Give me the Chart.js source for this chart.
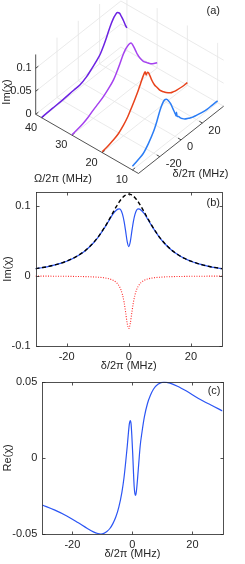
<!DOCTYPE html>
<html>
<head>
<meta charset="utf-8">
<script src="https://cdn.jsdelivr.net/npm/chart.js@4.4.1/dist/chart.umd.min.js"></script>
<style>
  html, body { margin: 0; padding: 0; background: #fff; }
  #wrap { position: relative; width: 245px; height: 564px; overflow: hidden; }
  canvas { position: absolute; left: 0; }
</style>
</head>
<body>
<div id="wrap">
  <canvas id="chartA" width="245" height="185" style="top:0"></canvas>
  <canvas id="chartB" width="245" height="200" style="top:180px"></canvas>
  <canvas id="chartC" width="245" height="194" style="top:370px"></canvas>
</div>
<script>
// ---- panel (a): Im(chi) traces for four coupling strengths Omega/2pi (MHz)
const omegaLevels = [10, 20, 30, 40];
const deltaOmega10 = [-40, -35, -30, -25, -20, -17, -14, -12, -10, -8, -6, -4, -2, -1, 0, 0.5, 1, 1.4, 1.9, 3.3, 5, 6.5, 9, 12.7, 16, 20, 25, 30, 35, 40];
const imOmega10 = [0.008, 0.012, 0.017, 0.030, 0.048, 0.064, 0.083, 0.092, 0.097, 0.095, 0.088, 0.078, 0.064, 0.057, 0.050, 0.047, 0.043, 0.050, 0.040, 0.037, 0.031, 0.027, 0.021, 0.016, 0.012, 0.009, 0.006, 0.004, 0.004, 0.004];
const deltaOmega20 = [-40, -35, -30, -25, -20, -16, -12, -9, -6, -4, -2, -0.5, 0.3, 1.3, 2.5, 3.5, 5, 6.6, 9, 11.4, 14, 17.6, 20, 24, 27, 30, 35, 40];
const imOmega20 = [0.002, 0.004, 0.008, 0.013, 0.023, 0.034, 0.049, 0.061, 0.074, 0.084, 0.094, 0.100, 0.102, 0.093, 0.097, 0.094, 0.084, 0.072, 0.058, 0.048, 0.037, 0.027, 0.021, 0.013, 0.010, 0.008, 0.006, 0.006];
const deltaOmega30 = [-40, -35, -30, -25, -20, -15, -10.5, -6, -1, 2, 5, 8, 10, 12, 14, 15.5, 17, 19.4, 21.5, 24, 27, 30.4, 34, 37, 40];
const imOmega30 = [0.001, 0.003, 0.006, 0.011, 0.018, 0.024, 0.030, 0.038, 0.049, 0.060, 0.073, 0.087, 0.094, 0.098, 0.100, 0.099, 0.092, 0.077, 0.063, 0.050, 0.038, 0.029, 0.020, 0.015, 0.011];
const deltaOmega40 = [-40, -30, -20, -10, -4, 2, 7, 11, 15, 18, 21, 24, 27, 29, 31, 33, 35, 37, 38.5, 40];
const imOmega40 = [0.001, 0.002, 0.003, 0.005, 0.006, 0.012, 0.021, 0.029, 0.038, 0.050, 0.064, 0.080, 0.092, 0.097, 0.099, 0.094, 0.082, 0.069, 0.058, 0.049];
const aTicksDelta = [-20, 0, 20];
const aTicksOmega = [10, 20, 30, 40];
const aTicksIm = [0, 0.05, 0.1];
const aTickLabelsIm = ['0', '0.05', '0.1'];

// ---- panel (b): Im(chi) with coupling (blue), without (black dashed), difference (red dotted)
const deltaB = [-30, -28, -26, -24, -22, -20, -18, -16, -14, -12, -10, -8, -7, -6, -5, -4, -3.5, -3, -2.5, -2, -1.5, -1, -0.5, 0,
  0.5, 1, 1.5, 2, 2.5, 3, 3.5, 4, 5, 6, 7, 8, 10, 12, 14, 16, 18, 20, 22, 24, 26, 28, 30];
const imUncoupled = [0.0105, 0.0119, 0.0135, 0.0156, 0.0181, 0.0212, 0.0251, 0.0300, 0.0363, 0.0445, 0.0549, 0.0679, 0.0752, 0.0831, 0.0912, 0.0991, 0.1027, 0.1062, 0.1093, 0.1119, 0.1141, 0.1157, 0.1167, 0.117,
  0.1167, 0.1157, 0.1141, 0.1119, 0.1093, 0.1062, 0.1027, 0.0991, 0.0912, 0.0831, 0.0752, 0.0679, 0.0549, 0.0445, 0.0363, 0.0300, 0.0251, 0.0212, 0.0181, 0.0156, 0.0135, 0.0119, 0.0105];
const imCoupled = [0.0104, 0.0118, 0.0134, 0.0155, 0.0180, 0.0211, 0.0250, 0.0299, 0.0362, 0.0443, 0.0546, 0.0675, 0.0745, 0.0820, 0.0890, 0.0940, 0.0955, 0.0960, 0.0940, 0.0880, 0.0780, 0.0640, 0.0490, 0.0420,
  0.0490, 0.0640, 0.0780, 0.0880, 0.0940, 0.0960, 0.0955, 0.0940, 0.0890, 0.0820, 0.0745, 0.0675, 0.0546, 0.0443, 0.0362, 0.0299, 0.0250, 0.0211, 0.0180, 0.0155, 0.0134, 0.0118, 0.0104];
const imDifference = [-0.0002, -0.0002, -0.0002, -0.0003, -0.0003, -0.0004, -0.0006, -0.0007, -0.0009, -0.0012, -0.0017, -0.0025, -0.0033, -0.0044, -0.0062, -0.0092, -0.0117, -0.0150, -0.0199, -0.0270, -0.0375, -0.0520, -0.0675, -0.0750,
  -0.0675, -0.0520, -0.0375, -0.0270, -0.0199, -0.0150, -0.0117, -0.0092, -0.0062, -0.0044, -0.0033, -0.0025, -0.0017, -0.0012, -0.0009, -0.0007, -0.0006, -0.0004, -0.0003, -0.0003, -0.0002, -0.0002, -0.0002];
const bTicksX = [-20, 0, 20];
const bTicksY = [-0.1, 0, 0.1];
const bTickLabelsY = ['-0.1', '0', '0.1'];

// ---- panel (c): Re(chi) with coupling
const deltaC = [-30, -26, -22, -18, -15, -13, -11.5, -10.5, -9.5, -8.5, -7.5, -6.5, -5.5, -4.5, -3.5, -2.8, -2.2, -1.7, -1.3, -1.0,
  -0.7, -0.45, -0.2, 0.1, 0.35, 0.6, 0.85, 1.1, 1.35, 1.7, 2.1, 2.6, 3.2, 4.0, 5.0, 6.0, 7.0, 8.5, 10.5, 12.5, 15, 18, 22, 26, 30];
const reCoupled = [-0.0308, -0.0340, -0.0378, -0.0425, -0.0462, -0.0484, -0.0495, -0.0498, -0.0494, -0.0482, -0.0462, -0.0430, -0.0385, -0.0320, -0.0225, -0.0130, -0.0020, 0.0080, 0.0170, 0.0225,
  0.0245, 0.0225, 0.0150, 0.0030, -0.0090, -0.0190, -0.0235, -0.0245, -0.0215, -0.0140, -0.0040, 0.0080, 0.0170, 0.0270, 0.0355, 0.0410, 0.0450, 0.0482, 0.0497, 0.0490, 0.0470, 0.0438, 0.0390, 0.0348, 0.0308];
const cTicksX = [-20, 0, 20];
const cTicksY = [-0.05, 0, 0.05];
const cTickLabelsY = ['-0.05', '0', '0.05'];

const axisColor = '#262626';
const gridColor = '#e4e4e4';
const fontFamily = '"Liberation Sans", Arial, Helvetica, sans-serif';

Chart.defaults.font.family = fontFamily;
Chart.defaults.font.size = 11;
Chart.defaults.color = axisColor;

function zip(xs, ys) {
  return xs.map((x, i) => ({ x: x, y: ys[i] }));
}

function baseOptions() {
  return {
    responsive: false,
    animation: false,
    devicePixelRatio: 1,
    events: [],
    elements: { point: { radius: 0 }, line: { cubicInterpolationMode: 'monotone', fill: false } },
    plugins: { legend: { display: false }, tooltip: { enabled: false } }
  };
}

// ---------- 3D waterfall (a) ----------
const box3d = { delta: [-40, 40], omega: [8, 42], im: [0, 0.13] };
const view3d = { az: -49.5, el: 42.4, aspect: [1, 1.03, 0.6175] };

function project(d, o, z) {
  const X = (d - box3d.delta[0]) / (box3d.delta[1] - box3d.delta[0]) * view3d.aspect[0];
  const Y = (o - box3d.omega[0]) / (box3d.omega[1] - box3d.omega[0]) * view3d.aspect[1];
  const Z = (z - box3d.im[0]) / (box3d.im[1] - box3d.im[0]) * view3d.aspect[2];
  const a = view3d.az * Math.PI / 180, e = view3d.el * Math.PI / 180;
  return {
    x: X * Math.cos(a) + Y * Math.sin(a),
    y: (-X * Math.sin(a) + Y * Math.cos(a)) * Math.sin(e) + Z * Math.cos(e)
  };
}

function trace(deltas, ims, omega) {
  return deltas.map((d, i) => project(d, omega, ims[i]));
}

const waterfallAxes = {
  id: 'waterfallAxes',
  beforeDatasetsDraw(chart) {
    const { ctx, scales: { x, y } } = chart;
    const pt = (d, o, z) => { const p = project(d, o, z); return [x.getPixelForValue(p.x), y.getPixelForValue(p.y)]; };
    const seg = (a, b) => { ctx.beginPath(); ctx.moveTo(a[0], a[1]); ctx.lineTo(b[0], b[1]); ctx.stroke(); };
    const [d0, d1] = box3d.delta, [o0, o1] = box3d.omega, [z0, z1] = box3d.im;
    ctx.save();
    ctx.lineWidth = 0.8;
    ctx.strokeStyle = gridColor;
    aTicksDelta.forEach(d => { seg(pt(d, o0, z0), pt(d, o1, z0)); seg(pt(d, o1, z0), pt(d, o1, z1)); });
    aTicksOmega.forEach(o => { seg(pt(d0, o, z0), pt(d1, o, z0)); seg(pt(d1, o, z0), pt(d1, o, z1)); });
    aTicksIm.forEach(z => { seg(pt(d0, o1, z), pt(d1, o1, z)); seg(pt(d1, o1, z), pt(d1, o0, z)); });

    ctx.strokeStyle = axisColor;
    seg(pt(d0, o1, z0), pt(d0, o1, z1));
    seg(pt(d0, o1, z0), pt(d0, o0, z0));
    seg(pt(d0, o0, z0), pt(d1, o0, z0));
    aTicksIm.forEach(z => seg(pt(d0, o1, z), pt(d0 + 2.5, o1, z)));
    aTicksOmega.forEach(o => seg(pt(d0, o, z0), pt(d0 + 2.5, o, z0)));
    aTicksDelta.forEach(d => seg(pt(d, o0, z0), pt(d, o0 + 1, z0)));
    ctx.restore();
  },
  afterDatasetsDraw(chart) {
    const { ctx, scales: { x, y } } = chart;
    const pt = (d, o, z) => { const p = project(d, o, z); return [x.getPixelForValue(p.x), y.getPixelForValue(p.y)]; };
    const [d0] = box3d.delta, [o0, o1] = box3d.omega, [z0] = box3d.im;
    ctx.save();
    ctx.fillStyle = axisColor;
    ctx.font = '11px ' + fontFamily;
    ctx.textBaseline = 'middle';
    ctx.textAlign = 'right';
    aTicksIm.forEach((z, i) => { const p = pt(d0, o1, z); ctx.fillText(aTickLabelsIm[i], p[0] - 4, p[1]); });
    aTicksOmega.forEach(o => { const p = pt(d0, o, z0); ctx.fillText(String(o), p[0] - 4.5, p[1] + 10); });
    ctx.textAlign = 'left';
    aTicksDelta.forEach(d => { const p = pt(d, o0, z0); ctx.fillText(String(d), p[0] + 6, p[1] + 7.5); });
    ctx.textAlign = 'center';
    ctx.fillText('Ω/2π (MHz)', 63, 179);
    ctx.fillText('δ/2π (MHz)', 200.5, 174.3);
    ctx.textAlign = 'right';
    ctx.fillText('(a)', 220, 10.5);
    ctx.translate(7, 92);
    ctx.rotate(-Math.PI / 2);
    ctx.textAlign = 'center';
    ctx.fillText('Im(χ)', 0, 0);
    ctx.restore();
  }
};

const traceColors = ['#2b7df5', '#e8431c', '#a541ef', '#6c22e2'];
const traceData = [
  trace(deltaOmega10, imOmega10, omegaLevels[0]),
  trace(deltaOmega20, imOmega20, omegaLevels[1]),
  trace(deltaOmega30, imOmega30, omegaLevels[2]),
  trace(deltaOmega40, imOmega40, omegaLevels[3])
];

const optsA = baseOptions();
optsA.layout = { padding: 0 };
optsA.scales = {
  x: { type: 'linear', display: false, min: -1.0553, max: 0.8121 },
  y: { type: 'linear', display: false, min: -0.0879, max: 1.3222 }
};
new Chart(document.getElementById('chartA'), {
  type: 'scatter',
  data: {
    datasets: traceData.map((d, i) => ({
      data: d, showLine: true, borderColor: traceColors[i], borderWidth: 1.5, order: 3 - i
    }))
  },
  options: optsA,
  plugins: [waterfallAxes]
});

// ---------- 2D panels (b), (c) ----------
const framePlugin = {
  id: 'frame',
  afterDraw(chart, args, opts) {
    const { ctx, chartArea: a, scales: { x, y } } = chart;
    const L = Math.round(a.left) + 0.5, R = Math.round(a.right) + 0.5;
    const T = Math.round(a.top) + 0.5, B = Math.round(a.bottom) + 0.5;
    ctx.save();
    ctx.strokeStyle = axisColor;
    ctx.lineWidth = 0.8;
    ctx.strokeRect(L, T, R - L, B - T);
    ctx.beginPath();
    x.ticks.forEach(t => {
      const px = Math.round(x.getPixelForValue(t.value)) + 0.5;
      ctx.moveTo(px, B); ctx.lineTo(px, B - 3);
      ctx.moveTo(px, T); ctx.lineTo(px, T + 3);
    });
    y.ticks.forEach(t => {
      const py = Math.round(y.getPixelForValue(t.value)) + 0.5;
      ctx.moveTo(L, py); ctx.lineTo(L + 3, py);
      ctx.moveTo(R, py); ctx.lineTo(R - 3, py);
    });
    ctx.stroke();
    ctx.fillStyle = axisColor;
    ctx.font = '11px ' + fontFamily;
    ctx.textAlign = 'right';
    ctx.textBaseline = 'middle';
    ctx.fillText(opts.label, a.right - 2, a.top + opts.labelDy);
    ctx.restore();
  }
};

function xAxis(min, max, ticks, title, height, titlePad) {
  return {
    type: 'linear', min: min, max: max,
    afterBuildTicks: s => { s.ticks = ticks.map(v => ({ value: v })); },
    afterFit: s => { s.height = height; },
    grid: { display: false, drawTicks: false },
    border: { display: false },
    ticks: { padding: 4, maxRotation: 0, autoSkip: false, callback: (v, i) => String(ticks[i]) },
    title: { display: true, text: title, padding: { top: 0, bottom: titlePad } }
  };
}

function yAxis(min, max, ticks, labels, title, width) {
  return {
    type: 'linear', min: min, max: max,
    afterBuildTicks: s => { s.ticks = ticks.map(v => ({ value: v })); },
    afterFit: s => { s.width = width; },
    grid: { display: false, drawTicks: false },
    border: { display: false },
    ticks: { padding: 5, autoSkip: false, callback: (v, i) => labels[i] },
    title: { display: true, text: title, padding: { top: 1.5, bottom: 0 } }
  };
}

const optsB = baseOptions();
optsB.layout = { padding: { top: 12, right: 23, left: 0, bottom: 0 } };
optsB.scales = {
  x: xAxis(-30, 30, bTicksX, 'δ/2π (MHz)', 34, 7.4),
  y: yAxis(-0.1, 0.12, bTicksY, bTickLabelsY, 'Im(χ)', 35.5)
};
optsB.plugins.frame = { label: '(b)', labelDy: 10.5 };
new Chart(document.getElementById('chartB'), {
  type: 'scatter',
  data: {
    datasets: [
      { data: zip(deltaB, imCoupled), showLine: true, borderColor: '#2b55f4', borderWidth: 1.2, order: 1 },
      { data: zip(deltaB, imDifference), showLine: true, borderColor: '#ff2a2a', borderWidth: 1.1, borderDash: [1, 1.5], order: 2 },
      { data: zip(deltaB, imUncoupled), showLine: true, borderColor: '#000000', borderWidth: 1.4, borderDash: [4, 2.6], order: 0 }
    ]
  },
  options: optsB,
  plugins: [framePlugin]
});

const optsC = baseOptions();
optsC.layout = { padding: { top: 11, right: 22.5, left: 0, bottom: 0 } };
optsC.scales = {
  x: xAxis(-30, 30, cTicksX, 'δ/2π (MHz)', 29.7, 3.4),
  y: yAxis(-0.05, 0.05, cTicksY, cTickLabelsY, 'Re(χ)', 42.3)
};
optsC.plugins.frame = { label: '(c)', labelDy: 9 };
new Chart(document.getElementById('chartC'), {
  type: 'scatter',
  data: {
    datasets: [
      { data: zip(deltaC, reCoupled), showLine: true, borderColor: '#2b55f4', borderWidth: 1.2 }
    ]
  },
  options: optsC,
  plugins: [framePlugin]
});
</script>
</body>
</html>
